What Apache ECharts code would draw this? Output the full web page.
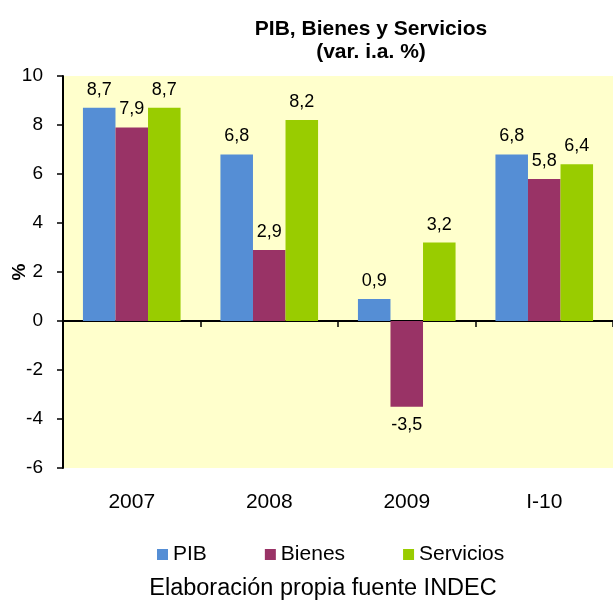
<!DOCTYPE html>
<html>
<head>
<meta charset="utf-8">
<script src="https://cdn.jsdelivr.net/npm/echarts@6/dist/echarts.min.js"></script>
<style>html,body{margin:0;padding:0;background:#fff}#c{width:613px;height:603px}</style>
</head>
<body>
<div id="c"></div>
<script>
const categories = ['2007', '2008', '2009', 'I-10'];
const pib = [8.7, 6.8, 0.9, 6.8];
const bienes = [7.9, 2.9, -3.5, 5.8];
const servicios = [8.7, 8.2, 3.2, 6.4];
const seriesNames = ['PIB', 'Bienes', 'Servicios'];
const yTicks = [-6, -4, -2, 0, 2, 4, 6, 8, 10];

const FONT = '"Liberation Sans", Arial, sans-serif';
const colors = ['#558ED5', '#993366', '#99CC00'];
const chart = echarts.init(document.getElementById('c'), null, {renderer: 'canvas'});

const fmt = v => String(v).replace('.', ',');
function mkSeries(name, data, i) {
  return {
    name: name, type: 'bar', data: data, xAxisIndex: 0,
    barGap: '0%', barCategoryGap: '29%',
    itemStyle: {color: colors[i]},
    label: {
      show: true, position: 'outside', distance: 9,
      fontFamily: FONT, fontSize: 18, color: '#000',
      formatter: p => fmt(p.value)
    }
  };
}

chart.setOption({
  animation: false,
  textStyle: {fontFamily: FONT},
  title: [
    {
      text: 'PIB, Bienes y Servicios\n(var. i.a. %)',
      left: 366, top: 13, textAlign: 'center',
      textStyle: {fontFamily: FONT, fontSize: 21, fontWeight: 'bold', color: '#000', lineHeight: 23}
    },
    {
      text: 'Elaboración propia fuente INDEC',
      left: 318, top: 572, textAlign: 'center',
      textStyle: {fontFamily: FONT, fontSize: 23.5, fontWeight: 'normal', color: '#000'}
    }
  ],
  legend: {
    data: seriesNames, left: 152, top: 539,
    itemWidth: 11, itemHeight: 11, itemGap: 58,
    icon: 'rect',
    textStyle: {fontFamily: FONT, fontSize: 21, color: '#000'}
  },
  grid: {
    left: 63, right: 0, top: 76, bottom: 135,
    containLabel: false, outerBoundsMode: 'none',
    show: true, backgroundColor: '#FFFFCC', borderWidth: 0
  },
  xAxis: [
    {
      type: 'category', data: categories,
      axisLine: {onZero: true, lineStyle: {color: '#000', width: 2}},
      axisTick: {show: true, length: 6, lineStyle: {color: '#000', width: 1.5}},
      axisLabel: {show: false}
    },
    {
      type: 'category', data: categories, position: 'bottom',
      axisLine: {show: false, onZero: false},
      axisTick: {show: false},
      axisLabel: {show: true, margin: 24, fontFamily: FONT, fontSize: 21, color: '#000'}
    }
  ],
  yAxis: {
    type: 'value', min: yTicks[0], max: yTicks[yTicks.length - 1], interval: 2,
    name: '%', nameLocation: 'middle', nameRotate: 90, nameGap: 34,
    nameMoveOverlap: false,
    nameTextStyle: {fontFamily: FONT, fontSize: 19, fontWeight: 'bold', color: '#000'},
    axisLine: {show: true, lineStyle: {color: '#000', width: 2}},
    axisTick: {show: true, length: 6, lineStyle: {color: '#000', width: 1.5}},
    axisLabel: {margin: 20, fontFamily: FONT, fontSize: 19, color: '#000'},
    splitLine: {show: false}
  },
  series: [
    mkSeries(seriesNames[0], pib, 0),
    mkSeries(seriesNames[1], bienes, 1),
    mkSeries(seriesNames[2], servicios, 2)
  ]
});
</script>
</body>
</html>
